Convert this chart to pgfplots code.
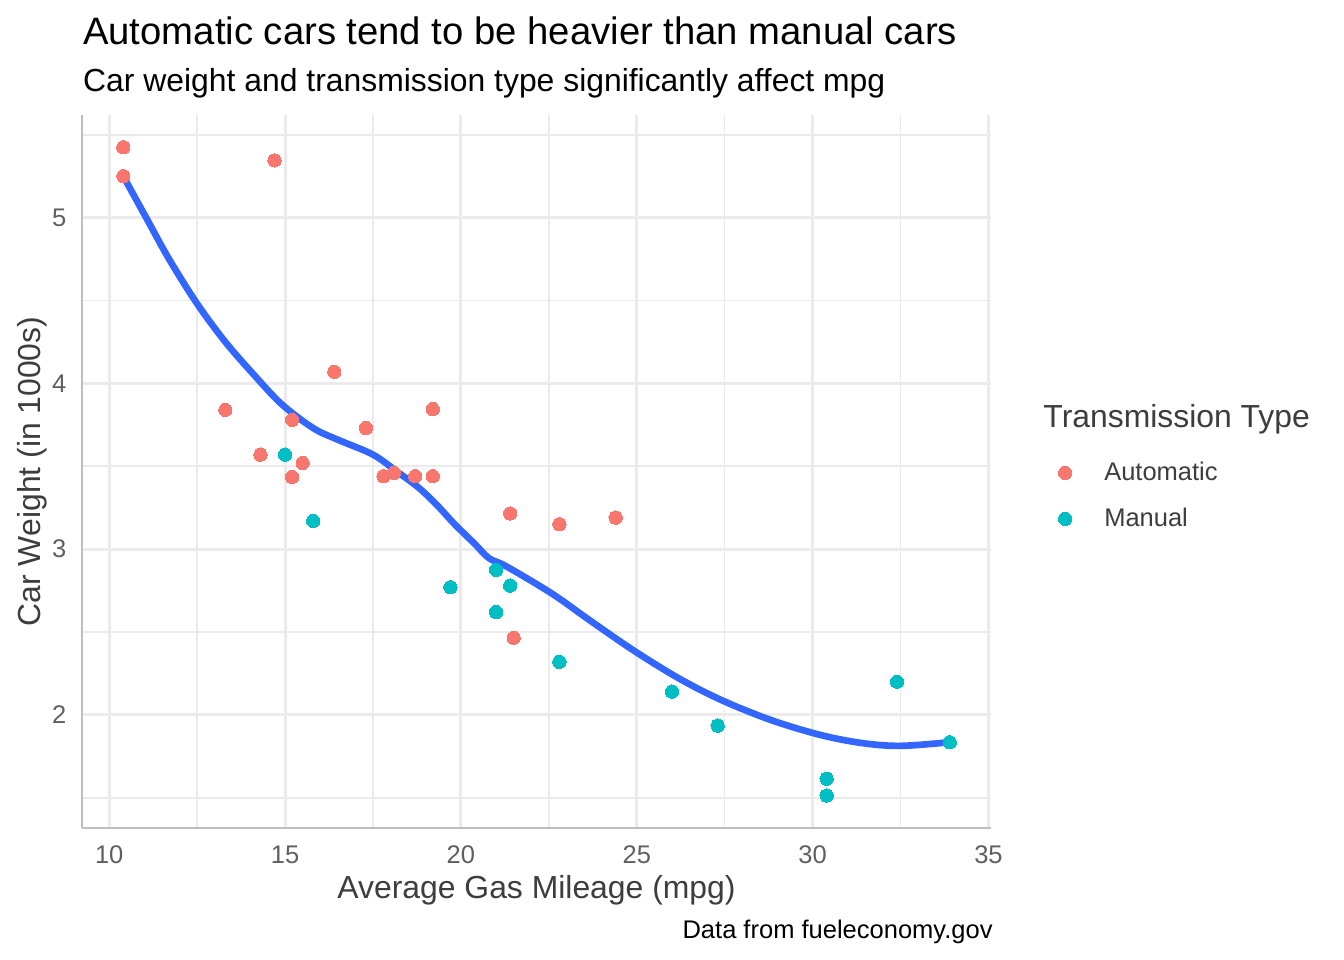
\documentclass[border=0pt]{standalone}
\usepackage{fontspec}
\setmainfont{Liberation Sans}
\usepackage{pgfplots}
\pgfplotsset{compat=1.18}
\definecolor{autoC}{HTML}{F8766D}
\definecolor{manC}{HTML}{00BFC4}
\definecolor{smoothC}{HTML}{3366FF}
\definecolor{gridC}{HTML}{EBEBEB}
\definecolor{axisC}{HTML}{BEBEBE}
\definecolor{tickC}{HTML}{5F5F5F}
\definecolor{labC}{HTML}{3D3D3D}
\begin{document}
\begin{tikzpicture}
\useasboundingbox (0,0) rectangle (504bp,360bp);
\begin{axis}[
  at={(30.75bp,49.5bp)}, anchor=south west,
  scale only axis, width=340.9bp, height=267.4bp,
  xmin=9.225, xmax=35.075, ymin=1.3175, ymax=5.6195,
  xtick={10,15,20,25,30,35}, ytick={2,3,4,5},
  minor xtick={12.5,17.5,22.5,27.5,32.5},
  minor ytick={1.5,2.5,3.5,4.5,5.5},
  grid=both,
  major grid style={gridC, line width=1.16bp},
  minor grid style={gridC, line width=0.58bp},
  axis lines*=left,
  axis line style={axisC, line width=0.8bp},
  major tick length=0pt, minor tick length=0pt,
  tick style={draw=none},
  /pgf/number format/assume math mode=true,
  tick label style={font=\fontsize{9.6}{11}\selectfont, text=tickC},
  xticklabel style={yshift=-3.2bp},
  yticklabel style={xshift=-2.4bp},
  legend style={at={(axis description cs:1.0742,0.5138)}, anchor=north west,
    draw=none, fill=none, inner sep=0pt, outer sep=0pt,
    font=\fontsize{9.6}{11}\selectfont, text=labC,
    row sep=8.8bp,
    nodes={inner sep=0pt},
    /tikz/every odd column/.append style={column sep=12.15bp}},
  legend cell align=left,
  legend image code/.code={\draw[#1] plot coordinates {(0bp,0bp)};},
]
\addplot[autoC, only marks, mark=*, mark size=2.5bp, mark options={draw=autoC, fill=autoC, line width=0pt}] coordinates {
(21.4,3.215) (18.7,3.440) (18.1,3.460) (14.3,3.570) (24.4,3.190) (22.8,3.150)
(19.2,3.440) (17.8,3.440) (16.4,4.070) (17.3,3.730) (15.2,3.780) (10.4,5.250)
(10.4,5.424) (14.7,5.345) (21.5,2.465) (15.5,3.520) (15.2,3.435) (13.3,3.840)
(19.2,3.845)};
\addlegendentry{Automatic}
\addplot[manC, only marks, mark=*, mark size=2.5bp, mark options={draw=manC, fill=manC, line width=0pt}] coordinates {
(21.0,2.620) (21.0,2.875) (22.8,2.320) (32.4,2.200) (30.4,1.615) (33.9,1.835)
(27.3,1.935) (26.0,2.140) (30.4,1.513) (15.8,3.170) (19.7,2.770) (15.0,3.570)
(21.4,2.780)};
\addlegendentry{Manual}
\addplot[smoothC, line width=2.5bp, smooth, tension=0.55, line join=round, line cap=round, forget plot] coordinates {
(10.4,5.25) (11.1,4.98) (11.7,4.75) (12.5,4.48) (13.3,4.25) (14.1,4.055)
(14.9,3.875) (15.8,3.73) (16.5,3.66) (17.5,3.57) (18.2,3.465) (18.8,3.37)
(19.3,3.27) (19.8,3.155) (20.4,3.03) (20.8,2.945) (21.3,2.895) (22.6,2.73)
(23.6,2.58) (24.9,2.39) (26.2,2.22) (27.4,2.09) (28.8,1.97) (30.2,1.88)
(31.4,1.83) (32.5,1.813) (33.9,1.835)};
\end{axis}
\node[anchor=base west, inner sep=0pt, font=\fontsize{14.4}{17}\selectfont] at (31bp,343.4bp) {Automatic cars tend to be heavier than manual cars};
\node[anchor=base west, inner sep=0pt, font=\fontsize{12}{14}\selectfont] at (31bp,325.6bp) {Car weight and transmission type significantly affect mpg};
\node[anchor=base, inner sep=0pt, font=\fontsize{12}{14}\selectfont, text=labC] at (201.2bp,23.1bp) {Average Gas Mileage (mpg)};
\node[anchor=base, rotate=90, inner sep=0pt, font=\fontsize{12}{14}\selectfont, text=labC] at (15bp,183.2bp) {Car Weight (in 1000s)};
\node[anchor=base east, inner sep=0pt, font=\fontsize{9.6}{11}\selectfont] at (372.4bp,7.9bp) {Data from fueleconomy.gov};
\node[anchor=base west, inner sep=0pt, font=\fontsize{12}{14}\selectfont, text=labC] at (391.1bp,199.5bp) {Transmission Type};
\end{tikzpicture}
\end{document}
